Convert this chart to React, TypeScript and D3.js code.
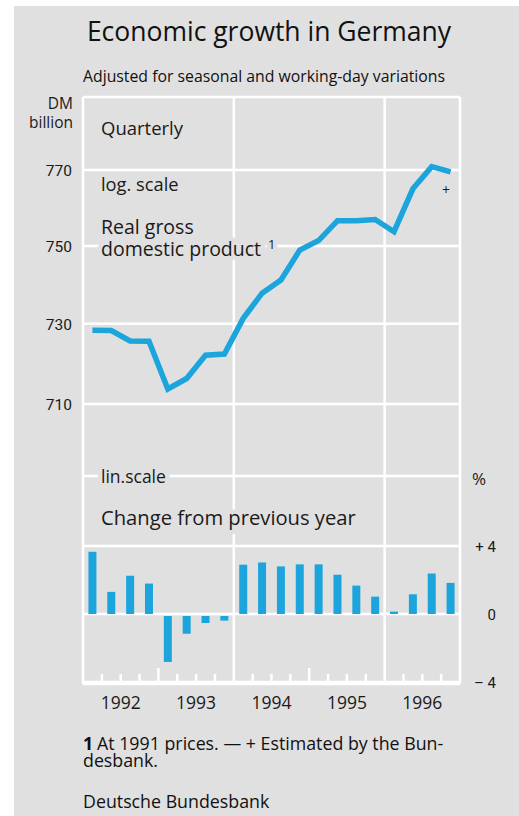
import React from "react";
import * as d3 from "d3";

const years = ["1992", "1993", "1994", "1995", "1996"];
const gdp = [728.4, 728.3, 725.7, 725.6, 713.7, 716.3, 722.1, 722.4, 731.4, 737.8, 741.2, 748.9, 751.4, 756.6, 756.6, 756.9, 753.7, 765.0, 770.9, 769.5];
const growth = [3.66, 1.3, 2.25, 1.79, -2.82, -1.16, -0.53, -0.39, 2.9, 3.03, 2.8, 2.92, 2.92, 2.31, 1.67, 1.02, 0.14, 1.16, 2.38, 1.83];
const logTicks = [770, 750, 730, 710];
const linTicks = [4, 0, -4];
const linTickLabels = ["+ 4", "0", "\u2013 4"];

const W = 519;
const H = 816;
const BG = "#e0e0e0";
const BLUE = "#1ba5dc";
const FONT = "'Open Sans', 'Noto Sans', sans-serif";
const NUMFONT = "Roboto, 'Open Sans', sans-serif";

const left = 83;
const right = 460;
const top = 97;
const lowerTop = 476;
const bottom = 684;

export default function App() {
  const n = gdp.length;
  const x = d3.scaleLinear().domain([0, n]).range([left, right]);
  const yLog = d3.scaleLog().domain([710, 770]).range([404, 170]);
  const yBar = d3.scaleLinear().domain([-4, 4]).range([682, 546]);

  const line = d3
    .line<number>()
    .x((_, i) => x(i + 0.5))
    .y((d) => yLog(d));

  const grid = "#ffffff";
  const gw = 2.5;
  const halo = { stroke: BG, strokeWidth: 9, paintOrder: "stroke" as const, strokeLinejoin: "round" as const };

  const ticks = d3.range(1, n);

  return (
    <svg width={W} height={H} style={{ position: "absolute", left: 0, top: 0 }} xmlns="http://www.w3.org/2000/svg">
      <rect x={14} y={6} width={W - 14} height={H - 6} fill={BG} />

      {/* frame & grid */}
      <g stroke={grid} strokeWidth={gw} fill="none">
        <line x1={left} x2={right} y1={top} y2={top} />
        <line x1={left} x2={left} y1={top} y2={bottom} />
        <line x1={right} x2={right} y1={top} y2={bottom} />
        <line x1={left} x2={right} y1={bottom} y2={bottom} />
        <line x1={left} x2={right} y1={lowerTop} y2={lowerTop} />
        {logTicks.map((t) => (
          <line key={"lg" + t} x1={left} x2={right} y1={yLog(t)} y2={yLog(t)} />
        ))}
        {linTicks.map((t) => (
          <line key={"ln" + t} x1={left} x2={right} y1={yBar(t)} y2={yBar(t)} />
        ))}
        {[8, 16].map((i) => (
          <line key={"v" + i} x1={x(i)} x2={x(i)} y1={top} y2={bottom} />
        ))}
        {ticks.map((i) =>
          i % 8 === 0 ? null : (
            <line key={"t" + i} x1={x(i)} x2={x(i)} y1={i % 4 === 0 ? 668 : 674} y2={bottom} />
          )
        )}
      </g>

      {/* texts inside plot with knock-out halo */}
      <g fontFamily={FONT} fill="#1a1a1a">
        <text x={101} y={135} fontSize={18.5} {...halo}>Quarterly</text>
        <text x={101} y={191} fontSize={18.3} {...halo}>log. scale</text>
        <text x={101} y={234} fontSize={19.5} {...halo}>Real gross</text>
        <text x={101} y={256} fontSize={19.5} {...halo}>domestic product</text>
        <text x={268} y={249} fontSize={13} {...halo}>1</text>
        <text x={101} y={483} fontSize={17.5} {...halo}>lin.scale</text>
        <text x={101} y={525} fontSize={20.2} {...halo}>Change from previous year</text>
      </g>

      {/* bars */}
      <g fill={BLUE}>
        {growth.map((v, i) => (
          <rect
            key={"b" + i}
            x={x(i + 0.5) - 4}
            width={8}
            y={v < 0 ? yBar(0) + 2 : yBar(v)}
            height={Math.max(1, Math.abs(yBar(v) - yBar(0)) - (v < 0 ? 2 : 0))}
          />
        ))}
      </g>

      {/* line */}
      <path d={line(gdp) || ""} fill="none" stroke={BLUE} strokeWidth={5.5} strokeLinejoin="miter" />
      <text x={446} y={195} fontFamily={FONT} fontSize={14} textAnchor="middle" fill="#1a1a1a">+</text>

      {/* axes labels */}
      <g fontFamily={NUMFONT} fill="#1a1a1a" fontSize={15.5}>
        <text x={73} y={109} textAnchor="end" fontFamily={FONT} fontSize={15.5}>DM</text>
        <text x={73} y={128} textAnchor="end" fontFamily={FONT} fontSize={15.5}>billion</text>
        {logTicks.map((t) => (
          <text key={"ll" + t} x={72} y={yLog(t) + 6} textAnchor="end">{t}</text>
        ))}
        <text x={472} y={485} fontFamily={FONT} fontSize={17}>%</text>
        {linTicks.map((t, i) => (
          <text key={"rl" + t} x={496} y={yBar(t) + 6} textAnchor="end" fontSize={15} xmlSpace="preserve">
            {linTickLabels[i]}
          </text>
        ))}
        {years.map((yr, i) => (
          <text key={yr} x={x(i * 4 + 2)} y={709} textAnchor="middle" fontFamily={FONT} fontSize={17.5}>{yr}</text>
        ))}
      </g>

      {/* titles */}
      <g fontFamily={FONT} fill="#111">
        <text x={269} y={41} textAnchor="middle" fontSize={26.5}>Economic growth in Germany</text>
        <text x={83} y={82} fontSize={15.8}>Adjusted for seasonal and working-day variations</text>
        <text x={83} y={750} fontSize={17.8} fontWeight="bold">1</text>
        <text x={97} y={750} fontSize={17.8}>At 1991 prices. — + Estimated by the Bun-</text>
        <text x={83} y={767} fontSize={17.8}>desbank.</text>
        <text x={83} y={808} fontSize={17.8}>Deutsche Bundesbank</text>
      </g>
    </svg>
  );
}
